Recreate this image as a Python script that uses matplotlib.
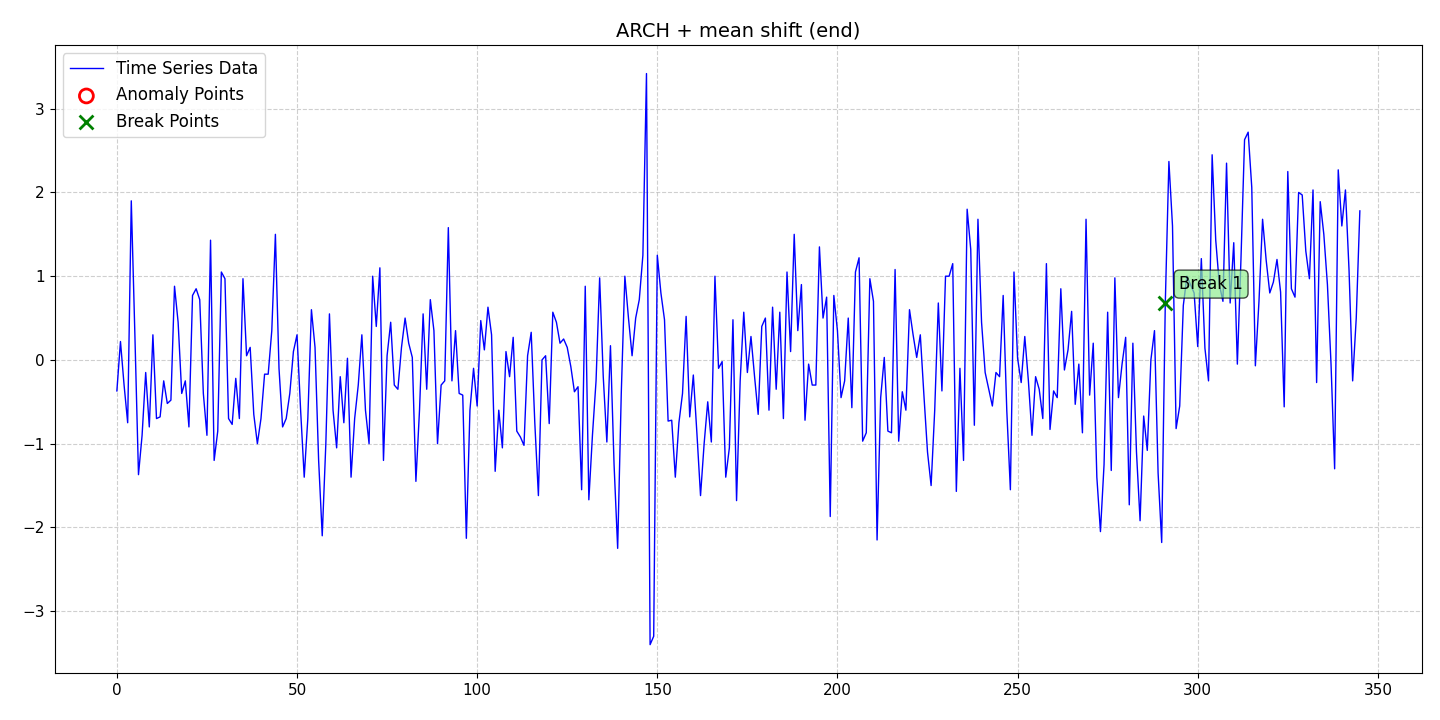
import numpy as np
import matplotlib
matplotlib.use("Agg")
import matplotlib.pyplot as plt

# values, index 0..345
values = [
    -0.37, 0.22, -0.3, -0.75, 1.9, 0.3, -1.37, -0.9, -0.15, -0.8,
    0.3, -0.7, -0.68, -0.25, -0.52, -0.48, 0.88, 0.45, -0.4, -0.25,
    -0.8, 0.77, 0.85, 0.72, -0.4, -0.9, 1.43, -1.2, -0.85, 1.05,
    0.97, -0.7, -0.77, -0.22, -0.7, 0.97, 0.05, 0.15, -0.65, -1.0,
    -0.7, -0.17, -0.17, 0.35, 1.5, -0.1, -0.8, -0.7, -0.4, 0.1,
    0.3, -0.6, -1.4, -0.7, 0.6, 0.15, -1.2, -2.1, -1.0, 0.55,
    -0.6, -1.05, -0.2, -0.75, 0.02, -1.4, -0.7, -0.3, 0.3, -0.6,
    -1.0, 1.0, 0.4, 1.1, -1.2, 0.05, 0.45, -0.3, -0.35, 0.15,
    0.5, 0.2, 0.03, -1.45, -0.6, 0.55, -0.35, 0.72, 0.35, -1.0,
    -0.3, -0.25, 1.58, -0.25, 0.35, -0.4, -0.42, -2.13, -0.6, -0.1,
    -0.55, 0.47, 0.12, 0.63, 0.3, -1.33, -0.6, -1.05, 0.1, -0.2,
    0.27, -0.85, -0.92, -1.02, 0.05, 0.33, -0.75, -1.62, 0.0, 0.05,
    -0.76, 0.57, 0.45, 0.2, 0.25, 0.15, -0.08, -0.38, -0.32, -1.55,
    0.88, -1.67, -0.9, -0.25, 0.98, -0.2, -0.98, 0.17, -1.25, -2.25,
    -0.4, 1.0, 0.5, 0.05, 0.5, 0.72, 1.25, 3.42, -3.4, -3.3,
    1.25, 0.8, 0.48, -0.73, -0.72, -1.4, -0.75, -0.4, 0.52, -0.68,
    -0.18, -0.88, -1.62, -1.0, -0.5, -0.98, 1.0, -0.1, -0.02, -1.4,
    -1.05, 0.48, -1.68, -0.25, 0.57, -0.15, 0.28, -0.2, -0.65, 0.4,
    0.5, -0.6, 0.63, -0.35, 0.57, -0.7, 1.05, 0.1, 1.5, 0.35,
    0.9, -0.72, -0.05, -0.3, -0.3, 1.35, 0.5, 0.75, -1.87, 0.77,
    0.35, -0.45, -0.25, 0.5, -0.57, 1.05, 1.22, -0.97, -0.87, 0.97,
    0.7, -2.15, -0.45, 0.03, -0.85, -0.87, 1.08, -0.97, -0.38, -0.6,
    0.6, 0.3, 0.03, 0.3, -0.42, -1.1, -1.5, -0.6, 0.68, -0.37,
    1.0, 1.0, 1.15, -1.57, -0.1, -1.2, 1.8, 1.32, -0.78, 1.68,
    0.45, -0.15, -0.35, -0.55, -0.15, -0.2, 0.77, -0.6, -1.55, 1.05,
    0.02, -0.27, 0.28, -0.25, -0.9, -0.2, -0.35, -0.7, 1.15, -0.83,
    -0.37, -0.45, 0.85, -0.12, 0.12, 0.58, -0.53, -0.05, -0.87, 1.68,
    -0.42, 0.2, -1.4, -2.05, -1.25, 0.57, -1.32, 0.98, -0.45, -0.05,
    0.27, -1.73, 0.2, -1.1, -1.92, -0.67, -1.08, 0.0, 0.35, -1.35,
    -2.18, 0.68, 2.37, 1.6, -0.82, -0.55, 0.65, 1.0, 0.9, 0.8,
    0.16, 1.21, 0.14, -0.25, 2.45, 1.43, 0.9, 0.7, 2.35, 0.68,
    1.4, -0.05, 1.2, 2.63, 2.72, 2.06, -0.07, 0.7, 1.68, 1.19,
    0.8, 0.93, 1.2, 0.81, -0.56, 2.25, 0.85, 0.75, 2.0, 1.97,
    1.3, 0.97, 2.03, -0.27, 1.89, 1.5, 0.9, -0.05, -1.3, 2.27,
    1.6, 2.03, 1.07, -0.25, 0.5, 1.78,
]
x = np.arange(len(values))
break_points = [291]
anomaly_points = []

fig, ax = plt.subplots(figsize=(14.4, 7.2), dpi=100)
ax.plot(x, values, color='blue', linewidth=1, label='Time Series Data')
ax.scatter(anomaly_points, [values[i] for i in anomaly_points], s=100,
           facecolors='none', edgecolors='red', linewidths=2, label='Anomaly Points')
ax.scatter(break_points, [values[i] for i in break_points], s=100, marker='x',
           color='green', linewidths=2, label='Break Points', zorder=3)
for k, b in enumerate(break_points):
    ax.annotate(f'Break {k+1}', (b, values[b]), xytext=(10, 10),
                textcoords='offset points', fontsize=12,
                bbox=dict(boxstyle='round,pad=0.3', fc='lightgreen', alpha=0.7))
ax.set_title('ARCH + mean shift (end)', fontsize=14)
ax.tick_params(labelsize=11)
ax.grid(True, linestyle='--', alpha=0.6)
ax.legend(loc='upper left', fontsize=12)
plt.subplots_adjust(left=0.038, right=0.9875, top=0.9375, bottom=0.065)
plt.savefig('out.png')
